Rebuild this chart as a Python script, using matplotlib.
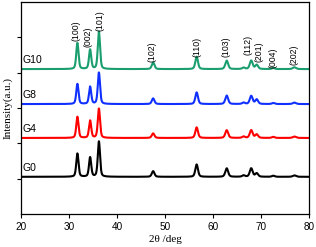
import matplotlib
matplotlib.use("Agg")
import matplotlib.pyplot as plt
import numpy as np

# ZnO reflections (2theta, deg)
hkl = ['(100)', '(002)', '(101)', '(102)', '(110)', '(103)', '(200)', '(112)', '(201)', '(004)', '(202)']
pos = [31.77, 34.42, 36.25, 47.54, 56.60, 62.86, 66.38, 67.96, 69.10, 72.56, 76.95]
fwhm = [0.55, 0.55, 0.55, 0.65, 0.65, 0.7, 0.7, 0.7, 0.7, 0.7, 0.8]

samples = ['G0', 'G4', 'G8', 'G10']
colors = ['black', '#ff0000', '#1030ff', '#1a9e6e']
offsets = [105, 215, 311, 410]
h_G0 = [66, 55, 100, 16, 35, 24, 4, 24, 10, 3, 4]
h_G4 = [60, 49, 83, 13, 30, 22, 4, 22, 10, 3, 4]
h_G8 = [57, 49, 89, 16, 33, 24, 4, 23, 13, 3, 4]
h_G10 = [74, 55, 106, 19, 35, 24, 4, 24, 12, 3, 5]
heights = [h_G0, h_G4, h_G8, h_G10]

# labelled peaks and where the label starts (y)
lab_names = ['(100)', '(002)', '(101)', '(102)', '(110)', '(103)', '(112)', '(201)', '(004)', '(202)']
lab_x = [31.5, 34.0, 36.4, 47.3, 56.6, 62.7, 67.3, 69.5, 72.4, 76.9]
lab_y = [490, 472, 518, 430, 444, 444, 450, 430, 413, 422]


def profile(x, h):
    y = np.zeros_like(x)
    for p, a, w in zip(pos, h, fwhm):
        g = np.exp(-4 * np.log(2) * (x - p) ** 2 / w ** 2)
        l = 1 / (1 + 4 * (x - p) ** 2 / w ** 2)
        y += a * (0.6 * g + 0.4 * l)
    return y


fig = plt.figure(figsize=(3.16, 2.47), dpi=100)
ax = fig.add_axes([0.066, 0.134, 0.912, 0.858])

x = np.linspace(20, 80, 3000)
for name, c, off, h in zip(samples, colors, offsets, heights):
    ax.plot(x, off + profile(x, h), color=c, lw=1.5)
    ax.text(20.4, off + 12, name, fontsize=7.5, family='Liberation Sans', va='bottom')

for t, tx, ty in zip(lab_names, lab_x, lab_y):
    ax.text(tx, ty, t, rotation=90, fontsize=6.3, family='Liberation Sans',
            ha='center', va='bottom')

ax.set_xlim(20, 80)
ax.set_ylim(0, 600)
ax.set_xticks([20, 30, 40, 50, 60, 70, 80])
ax.set_yticks([100, 200, 300, 400, 500])
ax.set_yticklabels([])
ax.tick_params(direction='out', length=3, width=0.8, labelsize=7.2, pad=2.5)
for lbl in ax.get_xticklabels():
    lbl.set_family('Liberation Sans')
for s in ax.spines.values():
    s.set_linewidth(0.9)

ax.set_xlabel('2θ /deg', fontsize=8, family='Liberation Serif', labelpad=2.5)
ax.set_ylabel('Intensity(a.u.)', fontsize=8, family='Liberation Serif', labelpad=0.5)

fig.savefig('out.png', dpi=100)
